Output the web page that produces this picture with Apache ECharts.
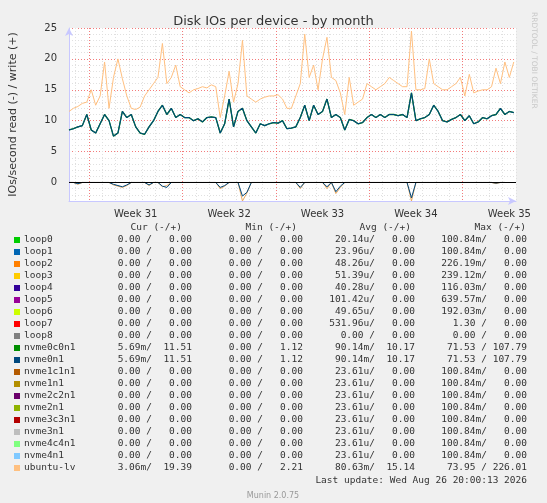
<!DOCTYPE html>
<html>
<head>
<meta charset="utf-8">
<script src="https://cdn.jsdelivr.net/npm/echarts@6/dist/echarts.min.js"></script>
<style>
  html, body { margin: 0; padding: 0; background: #f0f0f0; }
  #main { width: 547px; height: 503px; }
</style>
</head>
<body>
<div id="main"></div>
<script>
// one sample every 1/3 day
var step = 1 / 3;
var weekLabels = { 5: 'Week 31', 12: 'Week 32', 19: 'Week 33', 26: 'Week 34', 33: 'Week 35' };

var ubuntuWrite = [11.5, 12, 12.3, 12.8, 13, 15, 12.5, 14, 19.5, 12, 17, 20, 16.8, 14, 12, 11.8,
    12.2, 14, 15, 16, 17, 22.5, 16, 17, 19, 15.5, 15, 14.5, 15, 15.2, 15.5, 15.3, 15.8, 15.5,
    10.5, 14, 18, 13, 16, 23, 14, 13.5, 13, 13.5, 13.8, 14, 14, 14.2, 13.5, 12, 12, 14,
    16, 24, 17, 19, 15, 20, 23.5, 17, 16.5, 14.5, 11, 17, 12.5, 13, 13.5, 16, 15.5, 15,
    15.5, 16, 17, 16.5, 16, 15.5, 15.5, 24.5, 15, 15, 15.2, 20, 16, 15.5, 15, 15, 15.5, 16,
    17, 14, 17.5, 14.5, 14.8, 15, 15, 15.5, 18.5, 16, 19.5, 17, 19.5];

var nvmeWrite = [8.5, 8.7, 9, 9.2, 11, 8.5, 8, 9.5, 11, 10, 7.5, 8, 11.5, 10.5, 11, 9,
    8, 7.8, 9, 10, 11.5, 12.5, 11, 12, 10.5, 11, 10.5, 10.5, 10, 10.3, 9.8, 10.5, 10.6, 10.5,
    8, 9.5, 13.5, 9, 11.5, 12, 10, 9, 8, 9.5, 9.2, 9.5, 9.7, 9.6, 10, 8.7, 8.8, 9,
    10.5, 12.5, 10, 12.5, 11, 11.5, 13.5, 10.5, 11, 10.5, 8.5, 10.2, 10, 9.5, 9.7, 10.5, 11, 10.5,
    11, 10.5, 11, 11, 10.8, 11, 10.5, 14.5, 10, 10.3, 10.5, 11, 12.5, 11.5, 10, 9.8, 10.2, 10.5,
    11, 10, 10.8, 9.5, 9.8, 10.5, 10.3, 10.8, 11, 12, 11, 11.5, 11.3];

var ubuntuRead = [0, 0, -0.3, 0, 0, 0, 0, 0, 0, 0, -0.4, -0.6, -0.8, -0.5, 0, 0,
    0, 0, -0.5, 0, 0, -0.7, -0.5, 0, 0, 0, 0, 0, 0, 0, 0, 0, 0, 0,
    -1.0, -0.6, 0, 0, 0, -3.0, -1.7, 0, 0, 0, 0, 0, 0, 0, 0, 0, 0, 0,
    -1.0, 0, 0, 0, 0, 0, -1.0, 0, -1.8, -0.8, 0, 0, 0, 0, 0, 0, 0, 0,
    0, 0, 0, 0, 0, 0, 0, -3.0, 0, 0, 0, 0, 0, 0, 0, 0, 0, 0,
    0, 0, 0, 0, 0, 0, 0, 0, -0.2, 0, 0];

var nvmeRead = [0, 0, -0.2, 0, 0, 0, 0, 0, 0, 0, -0.3, -0.5, -0.7, -0.4, 0, 0,
    0, 0, -0.4, 0, 0, -0.6, -0.8, 0, 0, 0, 0, 0, 0, 0, 0, 0, 0, 0,
    -0.8, -0.5, 0, 0, 0, -2.2, -1.6, 0, 0, 0, 0, 0, 0, 0, 0, 0, 0, 0,
    -0.8, 0, 0, 0, 0, 0, -0.7, 0, -1.5, -0.6, 0, 0, 0, 0, 0, 0, 0, 0,
    0, 0, 0, 0, 0, 0, 0, -2.5, 0, 0, 0, 0, 0, 0, 0, 0, 0, 0,
    0, 0, 0, 0, 0, 0, 0, 0, -0.1, 0, 0];

var names = ['loop0', 'loop1', 'loop2', 'loop3', 'loop4', 'loop5', 'loop6', 'loop7', 'loop8',
    'nvme0c0n1', 'nvme0n1', 'nvme1c1n1', 'nvme1n1', 'nvme2c2n1', 'nvme2n1', 'nvme3c3n1',
    'nvme3n1', 'nvme4c4n1', 'nvme4n1', 'ubuntu-lv'];
var colors = ['#00cc00', '#0066b3', '#ff8000', '#ffcc00', '#330099', '#990099', '#ccff00',
    '#ff0000', '#808080', '#008f00', '#00487d', '#b35a00', '#b38f00', '#6b006b', '#8fb300',
    '#b30000', '#bebebe', '#80ff80', '#80c9ff', '#ffc080'];
var z = '0.00 /   0.00';
var curCol = [z, z, z, z, z, z, z, z, z, '5.69m/  11.51', '5.69m/  11.51', z, z, z, z, z, z, z, z, '3.06m/  19.39'];
var minCol = [z, z, z, z, z, z, z, z, z, '0.00 /   1.12', '0.00 /   1.12', z, z, z, z, z, z, z, z, '0.00 /   2.21'];
var avgCol = ['20.14u/   0.00', '23.96u/   0.00', '48.26u/   0.00', '51.39u/   0.00', '40.28u/   0.00',
    '101.42u/   0.00', '49.65u/   0.00', '531.96u/   0.00', z, '90.14m/  10.17', '90.14m/  10.17',
    '23.61u/   0.00', '23.61u/   0.00', '23.61u/   0.00', '23.61u/   0.00', '23.61u/   0.00',
    '23.61u/   0.00', '23.61u/   0.00', '23.61u/   0.00', '80.63m/  15.14'];
var m = '100.84m/   0.00';
var maxCol = [m, m, '226.19m/   0.00', '239.12m/   0.00', '116.03m/   0.00', '639.57m/   0.00',
    '192.03m/   0.00', '1.30 /   0.00', z, '71.53 / 107.79', '71.53 / 107.79', m, m, m, m, m, m, m, m,
    '73.95 / 226.01'];

function pts(arr) {
    return arr.map(function (v, i) { return [i * step, v]; });
}

var mono = 'DejaVu Sans Mono';
var graphics = [];
function txt(x, y, s, align, color) {
    graphics.push({ type: 'text', x: x, y: y, style: { text: s, font: '9.5px ' + mono,
        fill: color || '#333', align: align || 'left', verticalAlign: 'middle' } });
}
txt(182, 228, 'Cur (-/+)', 'right');
txt(297, 228, 'Min (-/+)', 'right');
txt(411, 228, 'Avg (-/+)', 'right');
txt(526, 228, 'Max (-/+)', 'right');
names.forEach(function (n, i) {
    var y = 240 + i * 12;
    graphics.push({ type: 'rect', shape: { x: 14, y: y - 3, width: 6, height: 6 }, style: { fill: colors[i] } });
    txt(24, y, n);
    txt(192, y, curCol[i], 'right');
    txt(303, y, minCol[i], 'right');
    txt(415, y, avgCol[i], 'right');
    txt(527, y, maxCol[i], 'right');
});
txt(527, 481, 'Last update: Wed Aug 26 20:00:13 2026', 'right');
graphics.push({ type: 'text', x: 273, y: 496, style: { text: 'Munin 2.0.75', font: '8px DejaVu Sans',
    fill: '#999', align: 'center', verticalAlign: 'middle' } });
graphics.push({ type: 'text', x: 534, y: 12, rotation: -Math.PI / 2, style: { text: 'RRDTOOL / TOBI OETIKER',
    font: '7.5px DejaVu Sans', fill: '#c8c8c8', align: 'left', verticalAlign: 'middle' } });

var myChart = echarts.init(document.getElementById('main'));

var red = 'rgba(240,90,90,0.8)';
var grey = '#e0e0e0';
var xGrid = [];
for (var k = 0; k < 14; k++) {
    xGrid.push(k === 3 ? red : (k % 2 === 1 ? grey : 'rgba(0,0,0,0)'));
}

var option = {
    backgroundColor: '#f0f0f0',
    animation: false,
    title: {
        text: 'Disk IOs per device - by month', left: 'center', top: 10,
        textStyle: { fontFamily: 'DejaVu Sans', fontSize: 13, fontWeight: 'normal', color: '#333' }
    },
    graphic: graphics,
    grid: { left: 66, right: 31, top: 28, bottom: 302, backgroundColor: '#fff', show: true, borderWidth: 0 },
    xAxis: {
        type: 'value', min: 0, max: 33.5, interval: 0.5,
        axisLine: { lineStyle: { color: '#c8c8ff' }, onZero: false, symbol: ['none', 'arrow'], symbolSize: [6, 8] },
        axisTick: { show: false },
        axisLabel: {
            interval: 0, showMinLabel: true, showMaxLabel: false, margin: 8,
            fontFamily: 'DejaVu Sans', fontSize: 10, color: '#333',
            formatter: function (v) { return weekLabels[v] || ''; }
        },
        splitLine: { show: true, lineStyle: { color: xGrid, type: [1, 2], width: 1 } }
    },
    yAxis: {
        type: 'value', min: -3, max: 25, interval: 1,
        name: 'IOs/second read (-) / write (+)', nameLocation: 'middle', nameGap: 50,
        nameTextStyle: { fontFamily: 'DejaVu Sans', fontSize: 11, color: '#333' },
        axisLine: { show: true, lineStyle: { color: '#c8c8ff' }, symbol: ['none', 'arrow'], symbolSize: [6, 8] },
        axisTick: { show: false },
        axisLabel: {
            fontFamily: 'DejaVu Sans', fontSize: 10, color: '#333', margin: 12,
            formatter: function (v) { return v % 5 === 0 ? String(v) : ''; }
        },
        splitLine: { lineStyle: { color: [grey, grey, grey, red, grey], type: [1, 2] } }
    },
    series: [
        { name: 'ubuntu-lv', type: 'line', data: pts(ubuntuWrite), showSymbol: false,
            lineStyle: { color: '#ffc080', width: 1 } },
        { name: 'ubuntu-lv read', type: 'line', data: pts(ubuntuRead), showSymbol: false,
            lineStyle: { color: '#e8a860', width: 1 } },
        { name: 'nvme0c0n1', type: 'line', data: pts(nvmeWrite), showSymbol: false,
            lineStyle: { color: '#008f00', width: 1.3 } },
        { name: 'nvme0n1', type: 'line', data: pts(nvmeWrite), showSymbol: false,
            lineStyle: { color: '#00487d', width: 1.1 } },
        { name: 'nvme0n1 read', type: 'line', data: pts(nvmeRead), showSymbol: false,
            lineStyle: { color: '#00487d', width: 1 },
            markLine: { silent: true, symbol: 'none', label: { show: false },
                lineStyle: { color: '#000', type: 'solid', width: 1 }, data: [{ yAxis: 0 }] } }
    ]
};

myChart.setOption(option);
</script>
</body>
</html>
